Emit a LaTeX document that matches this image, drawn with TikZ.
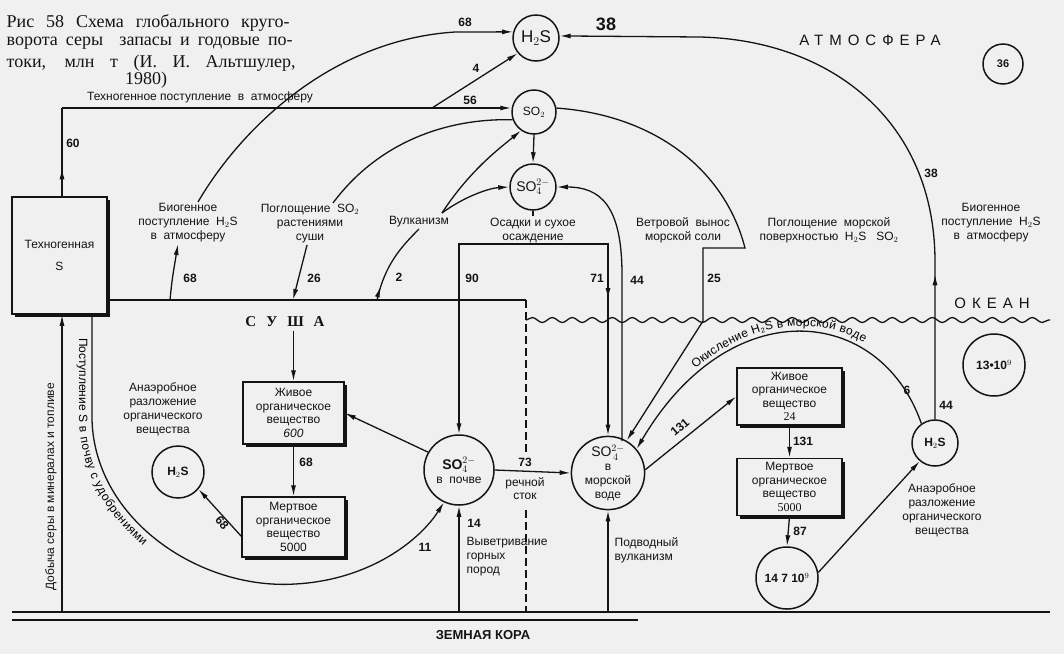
\documentclass[tikz,border=0pt]{standalone}
\usepackage{fontspec}
\setmainfont{Liberation Sans}
\newfontfamily\capfont{Liberation Serif}
\newfontfamily\widefont[LetterSpace=40]{Liberation Sans}
\usetikzlibrary{arrows.meta,positioning,shadows,decorations.markings,decorations.text,decorations.pathmorphing}
\definecolor{paper}{HTML}{F0F0F0}
\definecolor{ink}{HTML}{141414}

\begin{document}
\begin{tikzpicture}[x=1pt,y=1pt,
  font=\fontsize{12}{14}\selectfont, line width=1.3pt, draw=ink, text=ink,
  arr/.style={-{Latex[length=11pt,width=5pt]}},
  midarr/.style={postaction={decorate,decoration={markings,mark=at position #1 with {\arrow{Latex[length=11pt,width=5pt]}}}}},
  pool/.style={circle,draw,line width=1.5pt,fill=paper,inner sep=0pt,align=center},
  stock/.style={draw,line width=1.5pt,fill=paper,align=center,inner sep=1pt,font=\fontsize{12}{13.5}\selectfont,
    drop shadow={shadow xshift=3pt,shadow yshift=-3pt,fill=ink,opacity=1}},
  lbl/.style={align=center,inner sep=1pt},
  num/.style={font=\fontsize{12}{14}\selectfont\bfseries,inner sep=1pt},
  capt/.style={font=\capfont\fontsize{18}{20}\selectfont,inner sep=0pt},
  wide/.style={font=\widefont\fontsize{15}{15}\selectfont},
]
\useasboundingbox (0,0) rectangle (1064,-654);
\fill[paper] (0,0) rectangle (1064,-654);

% caption
\node[capt,anchor=west] (cap1) at (6,-23) {\makebox[283pt][s]{Рис 58 Схема глобального круго-}};
\node[capt,anchor=west] (cap2) at (6,-43) {\makebox[286pt][s]{ворота серы\ \ запасы и годовые по-}};
\node[capt,anchor=west] (cap3) at (6,-63) {\makebox[289pt][s]{токи, млн т (И. И. Альтшулер,}};
\node[capt] (cap4) at (146,-80) {1980)};

% atmosphere
\node[pool,minimum size=46pt,font=\fontsize{17}{17}\selectfont] (h2sA) at (536,-38) {H$_2$S};
\node[pool,minimum size=44pt] (so2) at (534,-112) {SO$_2$};
\node[pool,minimum size=46pt,font=\fontsize{14}{14}\selectfont] (so4A) at (533,-187) {SO$^{2-}_{4}$};
\node[font=\fontsize{18}{18}\selectfont\bfseries] (n38top) at (606,-24) {38};
\node[wide] (atm) at (870,-40) {АТМОСФЕРА};
\node[pool,minimum size=40pt,font=\fontsize{11}{11}\selectfont\bfseries] (c36) at (1003,-64) {36};

% technogenic sulphur
\node[stock,minimum width=95pt,minimum height=117pt] (tech) at (59.5,-255.5) {Техногенная\\[8pt]S};
\node[lbl] (techIn) at (200,-97) {Техногенное поступление\ \ в\ \ атмосферу};
\node[num] (n60) at (73,-143) {60};
\node[num] (n56) at (470,-100) {56};
\node[num] (n4) at (476,-68) {4};
\node[num] (n68top) at (465,-22) {68};

% labels between air and land
\node[lbl] (bioL) at (188,-223) {Биогенное\\поступление\ \ H$_2$S\\в\ \ атмосферу};
\node[lbl] (absL) at (310,-224) {Поглощение\ \ SO$_2$\\растениями\\суши};
\node[lbl] (volc) at (419,-222) {Вулканизм};
\node[lbl] (osadki) at (533,-230) {Осадки и сухое\\осаждение};
\node[lbl] (wind) at (683,-230) {Ветровой\ \ вынос\\морской соли};
\node[lbl] (absO) at (829,-230) {Поглощение\ \ морской\\поверхностью\ \ H$_2$S\ \ \ SO$_2$};
\node[lbl] (bioO) at (991,-223) {Биогенное\\поступление\ \ H$_2$S\\в\ \ атмосферу};
\node[num] (n68bio) at (190,-278) {68};
\node[num] (n26) at (314,-278) {26};
\node[num] (n2) at (399,-277) {2};
\node[num] (n90) at (472,-278) {90};
\node[num] (n71) at (597,-278) {71};
\node[num] (n44w) at (637,-280) {44};
\node[num] (n25) at (714,-278) {25};
\node[num] (n38side) at (931,-173) {38};

% land
\node[font=\capfont\bfseries\fontsize{15}{15}\selectfont] (susha) at (285,-322) {С\hspace{10pt}У\hspace{10pt}Ш\hspace{10pt}А};
\node[stock,minimum width=101pt,minimum height=62pt] (liveL) at (293.5,-413) {Живое\\органическое\\вещество\\\textit{600}};
\node[stock,minimum width=103pt,minimum height=60pt] (deadL) at (293.5,-527) {Мертвое\\органическое\\вещество\\5000};
\node[num] (n68live) at (306,-462) {68};
\node[pool,minimum size=52pt,font=\fontsize{12}{12}\selectfont\bfseries] (h2sL) at (178,-472) {H$_2$S};
\node[lbl] (anaL) at (163,-409) {Анаэробное\\разложение\\органического\\вещества};
\node[num,rotate=-50] (n68dead) at (222,-523) {68};
\node[pool,minimum size=70pt] (soil) at (459,-470) {{\bfseries\fontsize{14}{14}\selectfont SO$^{2-}_{4}$}\\в\ \ почве};
\node[num] (n73) at (525,-462) {73};
\node[lbl,font=\fontsize{12}{13}\selectfont] (river) at (525,-489) {речной\\сток};
\node[num] (n14) at (474,-523) {14};
\node[num] (n11) at (425,-547) {11};
\node[lbl,align=left,anchor=north west] (weath) at (465,-536) {Выветривание\\горных\\пород};
\node[lbl,rotate=90] (dob) at (51,-487) {Добыча серы в минералах и топливе};

% ocean
\node[wide] (ocean) at (992,-303) {ОКЕАН};
\node[pool,minimum size=70pt,font=\fontsize{12}{14}\selectfont] (seaSO4) at (608,-473) {{\fontsize{14}{14}\selectfont SO$^{2-}_{\,4}$}\\в\\морской\\воде};
\node[lbl,align=left,anchor=north west] (subv) at (613,-536) {Подводный\\вулканизм};
\node[stock,minimum width=105pt,minimum height=57pt,inner sep=0pt] (liveO) at (789.5,-396.5) {Живое\\органическое\\вещество\\{\capfont 24}};
\node[stock,minimum width=105pt,minimum height=57pt,inner sep=0pt] (deadO) at (789.5,-487) {Мертвое\\органическое\\вещество\\{\capfont 5000}};
\node[pool,minimum size=62pt,font=\fontsize{12}{12}\selectfont\bfseries] (c147) at (787,-578) {14 7 10$^9$};
\node[pool,minimum size=46pt,font=\fontsize{12}{12}\selectfont\bfseries] (h2sO) at (935,-443) {H$_2$S};
\node[pool,minimum size=62pt,font=\fontsize{12}{12}\selectfont\bfseries] (c13) at (994,-365) {13\textbullet 10$^9$};
\node[lbl] (anaO) at (942,-510) {Анаэробное\\разложение\\органического\\вещества};
\node[num,rotate=40] (n131a) at (680,-427) {131};
\node[num] (n131b) at (803,-441) {131};
\node[num] (n87) at (800,-531) {87};
\node[num] (n6) at (907,-390) {6};
\node[num] (n44b) at (946,-405) {44};
\node[font=\bfseries\fontsize{13}{13}\selectfont] (crust) at (483,-635) {ЗЕМНАЯ КОРА};

% fixed points on the lines
\coordinate (tk) at (62,-108);
\coordinate (br4) at (432,-108);
\coordinate (l68) at (170,-300);
\coordinate (l26) at (293,-300);
\coordinate (l2) at (377,-300);
\coordinate (landR) at (526,-300);
\coordinate (dashA) at (526,-452);
\coordinate (dashB) at (526,-510);
\coordinate (gDash) at (526,-612);
\coordinate (seaL) at (526,-320);
\coordinate (seaR) at (1050,-320);
\coordinate (w44) at (622,-441);
\coordinate (fert) at (92,-314);
\coordinate (gDob) at (62,-612);
\coordinate (gWeath) at (459,-612);
\coordinate (gSub) at (608,-612);
\coordinate (gL) at (12,-612);
\coordinate (gR) at (1050,-612);
\coordinate (gL2) at (12,-620);
\coordinate (gR2) at (638,-620);

% land surface, sea surface, crust
\draw (tech.east |- landR) -- (landR);
\draw[dash pattern=on 8pt off 4pt] (landR) -- (dashA);
\draw[dash pattern=on 8pt off 4pt] (dashB) -- (gDash);
\draw[decorate,decoration={snake,segment length=20pt,amplitude=2.5pt}] (seaL) -- (seaR);
\draw[line width=1.8pt] (gL) -- (gR);
\draw[line width=1.8pt] (gL2) -- (gR2);

% atmosphere fluxes
\draw[midarr=28pt] (tech.north -| tk) -- (tk);
\draw[arr] (tk) -- (so2.west |- tk);
\draw[arr] (br4) -- (h2sA.220);
\draw[arr] ([xshift=10pt]bioL.north) .. controls (240,-130) and (330,-40) .. (455,-32) -- (h2sA.165);
\draw[arr] (so2.south) -- (so4A.north);
\draw ([xshift=23pt]absL.north) .. controls (380,-140) and (450,-118) .. (so2.200);
\draw[arr] ([xshift=-3pt]absL.south) -- (l26);
\draw[arr] ([xshift=23pt,yshift=2pt]volc.north) .. controls (470,-170) and (500,-148) .. (so2.235);
\draw[arr] ([xshift=23pt,yshift=2pt]volc.north) .. controls (465,-196) and (490,-188) .. (so4A.west);
\draw[midarr=14pt] (l2) .. controls (385,-265) and (400,-248) .. (volc.south);
\draw[arr] (l68) .. controls (172,-280) .. ([xshift=-10pt]bioL.south);
\draw (so4A.south) -- (osadki.north);
\draw[arr] (osadki.south) -| (soil.north);
\draw[arr,midarr=130pt] (osadki.south) -| (seaSO4.north);
\draw[arr] (w44) -- (622,-275) .. controls (622,-205) and (600,-187) .. (so4A.east);
\draw[arr] (so2.10) .. controls (655,-115) and (725,-170) .. (745,-248) -- (703,-248) -- (703,-321) -- (seaSO4.60);
\draw[arr,midarr=145pt] (h2sO.north) -- (935,-262) .. controls (935,-120) and (830,-40) .. (700,-37) -- (h2sA.5);

% land fluxes
\draw[arr] (gDob) -- (gDob |- tech.south);
\draw[arr] (fert) -- (92,-420) .. controls (95,-520) and (200,-590) .. (295,-584) .. controls (370,-580) and (420,-540) .. (soil.245);
\path[decorate,decoration={text along path,text align={left indent=24pt},raise=-13pt,
  text={|\fontsize{12}{12}\selectfont|Поступление S в почву с удобрениями}}]
  (fert) -- (92,-420) .. controls (95,-520) and (200,-590) .. (295,-584);
\draw[arr] (liveL.north |- susha.south) -- (liveL.north);
\draw[arr] (liveL.south) -- (deadL.north);
\draw[arr] (deadL.190) -- (h2sL.-40);
\draw[arr] (soil.150) -- (liveL.east);
\draw[arr] (soil.east) -- (seaSO4.west);
\draw[arr] (gWeath) -- (soil.south);

% ocean fluxes
\draw[arr] (gSub) -- (seaSO4.south);
\draw[arr] (seaSO4.5) -- (liveO.west);
\draw[arr] (liveO.south) -- (deadO.north);
\draw[arr] (deadO.south) -- (c147.north);
\draw[arr] (c147.10) -- (h2sO.230);
\draw[arr] (h2sO.125) .. controls (880,-305) and (730,-290) .. (seaSO4.40);
\path[decorate,decoration={text along path,text align=center,raise=6pt,
  text={|\fontsize{12}{12}\selectfont|Окисление H₂S в морской воде}}]
  (seaSO4.40) .. controls (730,-290) and (880,-305) .. (h2sO.125);
\end{tikzpicture}
\end{document}
